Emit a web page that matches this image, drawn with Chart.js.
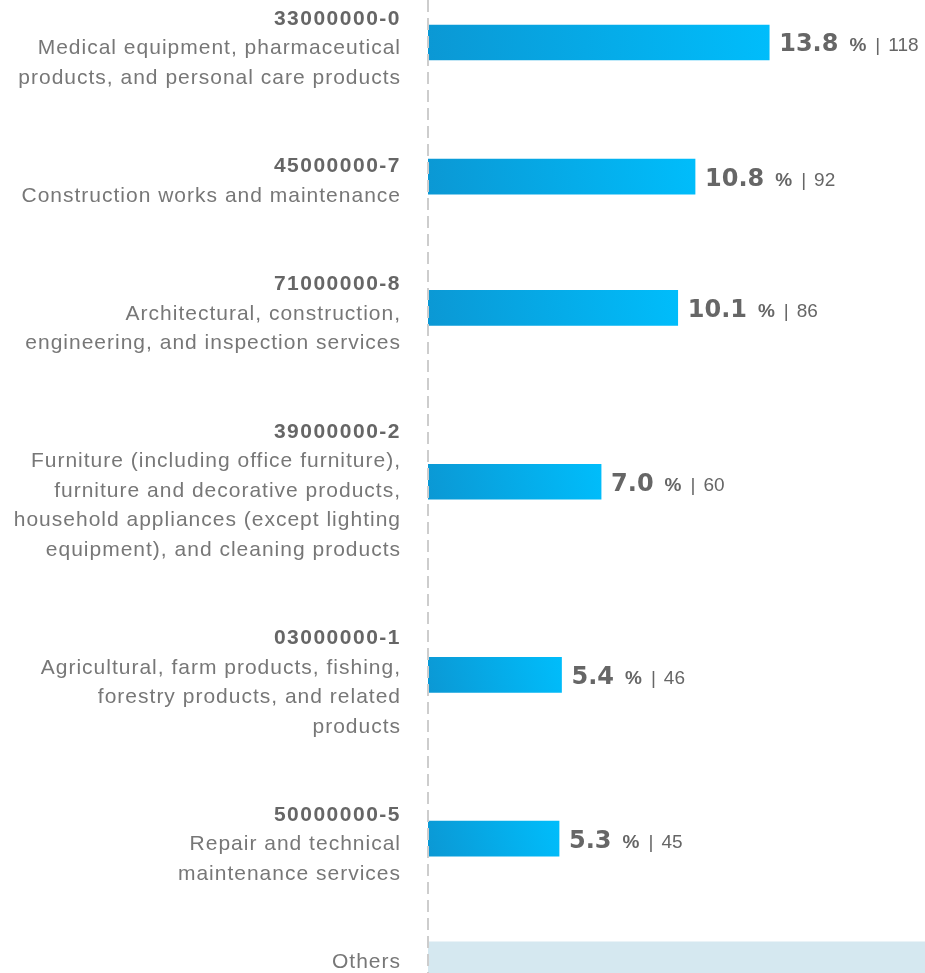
<!DOCTYPE html>
<html>
<head>
<meta charset="utf-8">
<script src="https://cdn.jsdelivr.net/npm/chart.js@4.4.1/dist/chart.umd.min.js"></script>
<style>
  html, body { margin: 0; padding: 0; background: #fff; }
  canvas { display: block; }
</style>
</head>
<body>
<canvas id="cpvChart" width="925" height="973"></canvas>
<script>
// CPV divisions, share of tenders (%) and number of tenders
const codes = ['33000000-0', '45000000-7', '71000000-8', '39000000-2', '03000000-1', '50000000-5', null];
const descriptions = [
    ['Medical equipment, pharmaceutical', 'products, and personal care products'],
    ['Construction works and maintenance'],
    ['Architectural, construction,', 'engineering, and inspection services'],
    ['Furniture (including office furniture),', 'furniture and decorative products,', 'household appliances (except lighting', 'equipment), and cleaning products'],
    ['Agricultural, farm products, fishing,', 'forestry products, and related', 'products'],
    ['Repair and technical', 'maintenance services'],
    ['Others']
];
const percents = [13.8, 10.8, 10.1, 7.0, 5.4, 5.3, 47.6];
const counts = [118, 92, 86, 60, 46, 45, 408];

const OTHERS = codes.length - 1;
const TEXT_GREY = '#777777';
const CODE_GREY = '#666666';
const VALUE_GREY = '#666666';

// rows are laid out in "text line" units: each block is its lines plus a 2-line gap
const rows = [];
let rowTop = 0.09;
descriptions.forEach((desc, i) => {
    const lines = codes[i] ? [codes[i], ...desc] : desc;
    rows.push({ lines, top: rowTop, barY: rowTop + 0.45 * lines.length, hasCode: !!codes[i] });
    rowTop += lines.length + 2;
});

function barFill(ctx) {
    const chart = ctx.chart;
    if (ctx.dataIndex === OTHERS) return '#d5e8f0';
    if (!chart.chartArea) return '#07a9e8';
    const x = chart.scales.x;
    const y = chart.scales.y;
    const x0 = x.getPixelForValue(0);
    const x1 = x.getPixelForValue(percents[ctx.dataIndex]);
    const yc = y.getPixelForValue(rows[ctx.dataIndex].barY);
    const g = chart.ctx.createLinearGradient(x0, yc + 18, x1, yc - 18);
    g.addColorStop(0, '#0b98d4');
    g.addColorStop(1, '#00bdfb');
    return g;
}

const labelPlugin = {
    id: 'cpvLabels',
    afterDatasetsDraw(chart) {
        const { ctx, chartArea, scales } = chart;
        const axisX = scales.x.getPixelForValue(0);

        // dashed baseline
        ctx.save();
        ctx.strokeStyle = '#cdcdcd';
        ctx.lineWidth = 2;
        ctx.setLineDash([12, 6]);
        ctx.beginPath();
        ctx.moveTo(axisX, chartArea.top);
        ctx.lineTo(axisX, chartArea.bottom);
        ctx.stroke();
        ctx.restore();

        // category labels on the left
        ctx.save();
        ctx.textAlign = 'right';
        ctx.textBaseline = 'alphabetic';
        const rightX = axisX - 27;
        rows.forEach(row => {
            row.lines.forEach((line, li) => {
                const yc = scales.y.getPixelForValue(row.top + li + 0.5);
                if (row.hasCode && li === 0) {
                    ctx.font = 'bold 21px "Liberation Sans", Arial, sans-serif';
                    ctx.letterSpacing = '1.5px';
                    ctx.fillStyle = CODE_GREY;
                } else {
                    ctx.font = '21px "Liberation Sans", Arial, sans-serif';
                    ctx.letterSpacing = '1px';
                    ctx.fillStyle = TEXT_GREY;
                }
                ctx.fillText(line, rightX, yc + 7.5);
            });
        });
        ctx.restore();

        // value labels at bar ends
        ctx.save();
        ctx.textAlign = 'left';
        ctx.textBaseline = 'alphabetic';
        ctx.fillStyle = VALUE_GREY;
        percents.forEach((p, i) => {
            let x = scales.x.getPixelForValue(p) + 10;
            const base = scales.y.getPixelForValue(rows[i].barY) + 9;
            ctx.font = 'bold 24px "DejaVu Sans", sans-serif';
            const num = p.toFixed(1);
            ctx.fillText(num, x, base);
            x += ctx.measureText(num).width + 11;
            ctx.font = 'bold 19px "Liberation Sans", Arial, sans-serif';
            ctx.fillText('%', x, base);
            x += ctx.measureText('%').width + 9;
            ctx.font = '19px "Liberation Sans", Arial, sans-serif';
            ctx.fillText('|', x, base);
            x += ctx.measureText('|').width + 8;
            ctx.fillText(String(counts[i]), x, base);
        });
        ctx.restore();
    }
};

new Chart(document.getElementById('cpvChart').getContext('2d'), {
    type: 'bar',
    data: {
        datasets: [{
            data: percents.map((p, i) => ({ x: p, y: rows[i].barY })),
            backgroundColor: barFill,
            borderWidth: 0,
            barThickness: 35
        }]
    },
    options: {
        indexAxis: 'y',
        responsive: false,
        animation: false,
        layout: { padding: { left: 428, top: 0, right: 0, bottom: 0 } },
        scales: {
            x: { type: 'linear', min: 0, max: 20.1, display: false },
            y: { type: 'linear', min: 0, max: 33, reverse: true, offset: false, display: false }
        },
        plugins: {
            legend: { display: false },
            tooltip: { enabled: false }
        }
    },
    plugins: [labelPlugin]
});
</script>
</body>
</html>
